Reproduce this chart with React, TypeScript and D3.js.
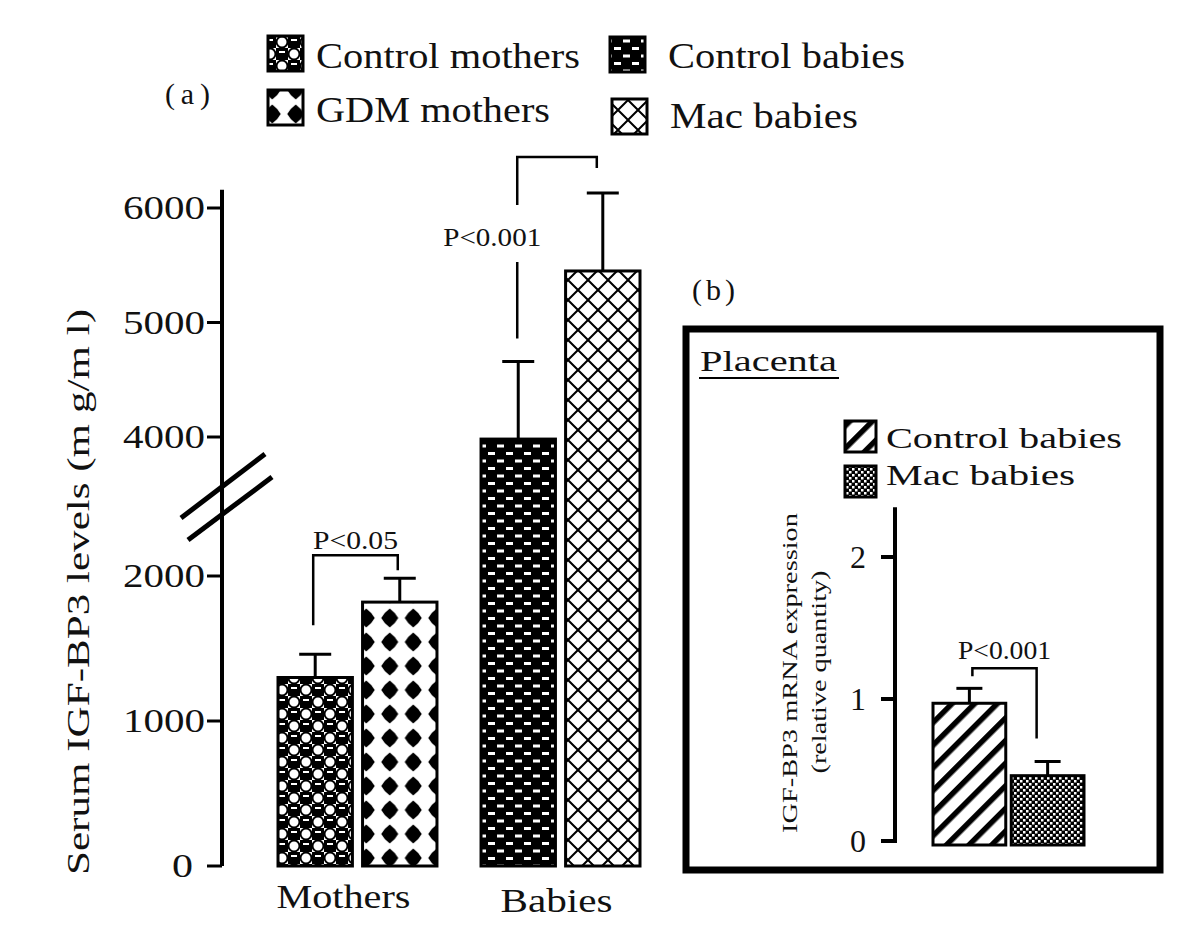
import React from "react";
import * as d3 from "d3";

// main panel (a): serum IGF-BP3
const groups = ["Mothers", "Babies"];
const motherSeries = ["Control mothers", "GDM mothers"];
const babySeries = ["Control babies", "Mac babies"];
const motherMeans = [1300, 1820];
const motherErr = [160, 165];
const babyMeans = [3970, 5450];
const babyErr = [690, 680];
const yTicks = [0, 1000, 2000, 4000, 5000, 6000];

// inset panel (b): placenta mRNA
const placentaSeries = ["Control babies", "Mac babies"];
const placentaMeans = [0.97, 0.46];
const placentaErr = [0.105, 0.1];
const placentaTicks = [0, 1, 2];

const patternIds: Record<string, string> = {
  "Control mothers": "pCM",
  "GDM mothers": "pGDM",
  "Control babies": "pCB",
  "Mac babies": "pMac",
};

const FONT = "'Liberation Serif', 'Times New Roman', serif";

export default function App() {
  const width = 1200;
  const height = 942;

  // broken axis: 0-2000 below the break, 4000-6000 above
  const y = d3.scaleLinear().domain([0, 2000, 4000, 6000]).range([866, 576, 437, 208]);
  const x0 = d3.scaleBand().domain(groups).range([278, 640]).paddingInner(0.217);
  const x1 = d3.scaleBand().domain(["0", "1"]).range([0, x0.bandwidth()]).paddingInner(0.12);

  const bars = groups.flatMap((g, gi) => {
    const names = gi === 0 ? motherSeries : babySeries;
    const means = gi === 0 ? motherMeans : babyMeans;
    const errs = gi === 0 ? motherErr : babyErr;
    return names.map((n, i) => ({
      name: n,
      x: (x0(g) as number) + (x1(String(i)) as number),
      w: x1.bandwidth(),
      v: means[i],
      e: errs[i],
    }));
  });

  const yi = d3.scaleLinear().domain([0, 2]).range([841, 557]);
  const xi = d3.scaleBand().domain(placentaSeries).range([933, 1084]).paddingInner(0.07);

  const capTop = (b: { v: number; e: number }) => y(b.v + b.e);
  const [cm, gdm, cb, mac] = bars;

  // brackets
  const mBr = { y: capTop(gdm) - 23, l: cm.x + cm.w / 2 - 2, r: gdm.x + gdm.w / 2 - 2, lEnd: capTop(cm) - 29, rEnd: capTop(gdm) - 8 };
  const bBr = { y: capTop(mac) - 36, l: cb.x + cb.w / 2 - 1, r: mac.x + mac.w / 2 - 6, lEnd: capTop(cb) - 23, rEnd: capTop(mac) - 25 };
  const iCap0 = yi(placentaMeans[0] + placentaErr[0]);
  const iCap1 = yi(placentaMeans[1] + placentaErr[1]);
  const iL = (xi(placentaSeries[0]) as number) + xi.bandwidth() / 2 + 3;
  const iR = (xi(placentaSeries[1]) as number) + xi.bandwidth() / 2 - 11;

  const legend = [
    { name: "Control mothers", sx: 268, sy: 36, tx: 316, ty: 68, len: 264 },
    { name: "GDM mothers", sx: 268, sy: 90, tx: 316, ty: 122, len: 234 },
    { name: "Control babies", sx: 610, sy: 37, tx: 668, ty: 68, len: 237 },
    { name: "Mac babies", sx: 612, sy: 99, tx: 670, ty: 128, len: 188 },
  ];

  return (
    <svg width={width} height={height} style={{ position: "absolute", left: 0, top: 0, background: "#fff" }} fontFamily={FONT} fill="#111">
      <defs>
        <pattern id="pCM" width={24} height={24} patternUnits="userSpaceOnUse">
          <rect width={24} height={24} fill="#fff" />
          <rect x={12} y={0} width={12} height={12} fill="#000" />
          <rect x={0} y={12} width={12} height={12} fill="#000" />
          <circle cx={6} cy={6} r={5.5} fill="none" stroke="#000" strokeWidth={2} />
          <circle cx={18} cy={18} r={5.5} fill="none" stroke="#000" strokeWidth={2} />
          <rect x={15} y={3} width={6} height={2} fill="#fff" />
          <rect x={3} y={15} width={6} height={2} fill="#fff" />
        </pattern>
        <pattern id="pGDM" width={23.5} height={24} patternUnits="userSpaceOnUse" x={2} y={6}>
          <rect width={23.5} height={24} fill="#fff" />
          <path transform="translate(11.75,12)" d="M0,-9.5L5,-5L8.5,0L5,5L0,9.5L-5,5L-8.5,0L-5,-5Z" fill="#000" />
        </pattern>
        <pattern id="pCB" width={18} height={15} patternUnits="userSpaceOnUse">
          <rect width={18} height={15} fill="#000" />
          <rect x={2} y={2} width={7} height={3} fill="#fff" />
          <rect x={11} y={9.5} width={7} height={3} fill="#fff" />
        </pattern>
        <pattern id="pMac" width={20} height={20} patternUnits="userSpaceOnUse" x={568}>
          <rect width={20} height={20} fill="#fff" />
          <path d="M0,0L20,20M20,0L0,20" stroke="#000" strokeWidth={2} />
        </pattern>
        <pattern id="pStripe" width={16} height={16} patternUnits="userSpaceOnUse" patternTransform="rotate(45)">
          <rect width={16} height={16} fill="#fff" />
          <rect x={0} y={0} width={5.5} height={16} fill="#000" />
        </pattern>
        <pattern id="pDots" width={6} height={6} patternUnits="userSpaceOnUse">
          <rect width={6} height={6} fill="#000" />
          <rect x={0} y={0} width={2.5} height={2.5} fill="#fff" />
          <rect x={3} y={3} width={2.5} height={2.5} fill="#fff" />
        </pattern>
      </defs>

      {/* panel label and legend */}
      <text x={165} y={104} fontSize={30} textLength={45}>(a)</text>
      {legend.map((d) => (
        <g key={d.name}>
          <rect x={d.sx} y={d.sy} width={35} height={35} fill={`url(#${patternIds[d.name]})`} stroke="#000" strokeWidth={3} />
          <text x={d.tx} y={d.ty} fontSize={36} textLength={d.len} lengthAdjust="spacingAndGlyphs">{d.name}</text>
        </g>
      ))}

      {/* y axis with break */}
      <line x1={222} x2={222} y1={y(0)} y2={y(6160)} stroke="#000" strokeWidth={4} />
      {yTicks.map((t) => (
        <g key={t}>
          <line x1={207} x2={222} y1={y(t)} y2={y(t)} stroke="#000" strokeWidth={3} />
          <text x={t === 0 ? 193 : 205} y={y(t) + 11} fontSize={34} textAnchor="end" textLength={t === 0 ? 21 : 82} lengthAdjust="spacingAndGlyphs">{t}</text>
        </g>
      ))}
      <line x1={181} y1={518} x2={265} y2={454} stroke="#000" strokeWidth={5} />
      <line x1={188} y1={540} x2={272} y2={477} stroke="#000" strokeWidth={5} />
      <text transform={`translate(89,${592}) rotate(-90)`} fontSize={31} textAnchor="middle" textLength={566} lengthAdjust="spacingAndGlyphs">Serum IGF-BP3 levels  (m g/m l)</text>

      {/* bars */}
      {bars.map((b) => (
        <g key={b.name}>
          <line x1={b.x + b.w / 2} x2={b.x + b.w / 2} y1={y(b.v)} y2={capTop(b)} stroke="#000" strokeWidth={3} />
          <line x1={b.x + b.w / 2 - 16} x2={b.x + b.w / 2 + 16} y1={capTop(b)} y2={capTop(b)} stroke="#000" strokeWidth={3} />
          <rect x={b.x} y={y(b.v)} width={b.w} height={y(0) - y(b.v)} fill={`url(#${patternIds[b.name]})`} stroke="#000" strokeWidth={3} />
        </g>
      ))}
      {groups.map((g, i) => (
        <text key={g} x={(x0(g) as number) + x0.bandwidth() / 2 - 14 * (1 - i) - 4 * i} y={908 + 4 * i} fontSize={34} textAnchor="middle" textLength={i === 0 ? 134 : 112} lengthAdjust="spacingAndGlyphs">{g}</text>
      ))}

      {/* significance brackets */}
      <path d={`M${mBr.l},${mBr.lEnd}V${mBr.y}H${mBr.r}V${mBr.rEnd}`} fill="none" stroke="#000" strokeWidth={2.5} />
      <text x={(mBr.l + mBr.r) / 2} y={mBr.y - 6} fontSize={26} textAnchor="middle" textLength={85} lengthAdjust="spacingAndGlyphs">P&lt;0.05</text>
      <path d={`M${bBr.l},${bBr.y + 48}V${bBr.y}H${bBr.r}V${bBr.rEnd}M${bBr.l},${bBr.y + 105}V${bBr.lEnd}`} fill="none" stroke="#000" strokeWidth={2.5} />
      <text x={bBr.l - 25} y={bBr.y + 89} fontSize={26} textAnchor="middle" textLength={98} lengthAdjust="spacingAndGlyphs">P&lt;0.001</text>

      {/* inset (b) */}
      <text x={692} y={300} fontSize={30} textLength={43}>(b)</text>
      <rect x={686} y={329} width={474} height={541} fill="none" stroke="#000" strokeWidth={7} />
      <text x={700} y={371} fontSize={30} textLength={137} lengthAdjust="spacingAndGlyphs">Placenta</text>
      <line x1={699} x2={839} y1={378} y2={378} stroke="#000" strokeWidth={2} />
      {placentaSeries.map((n, i) => (
        <g key={n}>
          <rect x={845} y={421 + i * 45} width={31} height={31} fill={i === 0 ? "url(#pStripe)" : "url(#pDots)"} stroke="#000" strokeWidth={3} />
          <text x={886} y={448 + i * 37} fontSize={30} textLength={i === 0 ? 236 : 189} lengthAdjust="spacingAndGlyphs">{n}</text>
        </g>
      ))}
      <line x1={895} x2={895} y1={yi(0) + 2} y2={yi(2.35)} stroke="#000" strokeWidth={4} />
      {placentaTicks.map((t) => (
        <g key={t}>
          <line x1={881} x2={895} y1={yi(t)} y2={yi(t)} stroke="#000" strokeWidth={4} />
          <text x={866} y={yi(t) + 11} fontSize={32} textAnchor="end">{t}</text>
        </g>
      ))}
      <text transform={`translate(797,${673}) rotate(-90)`} fontSize={20} textAnchor="middle" textLength={320} lengthAdjust="spacingAndGlyphs">IGF-BP3 mRNA expression</text>
      <text transform={`translate(826,${672}) rotate(-90)`} fontSize={20} textAnchor="middle" textLength={203} lengthAdjust="spacingAndGlyphs">(relative quantity)</text>
      {placentaSeries.map((n, i) => {
        const bx = xi(n) as number;
        const cx = bx + xi.bandwidth() / 2;
        const top = yi(placentaMeans[i]);
        const cap = yi(placentaMeans[i] + placentaErr[i]);
        return (
          <g key={n}>
            <line x1={cx} x2={cx} y1={top} y2={cap} stroke="#000" strokeWidth={3} />
            <line x1={cx - 13} x2={cx + 13} y1={cap} y2={cap} stroke="#000" strokeWidth={3} />
            <rect x={bx} y={top} width={xi.bandwidth()} height={yi(0) + 4 - top} fill={i === 0 ? "url(#pStripe)" : "url(#pDots)"} stroke="#000" strokeWidth={3} />
          </g>
        );
      })}
      <path d={`M${iL},${iCap0 - 12}V${iCap0 - 20}H${iR}V${iCap1 - 23}`} fill="none" stroke="#000" strokeWidth={2.5} />
      <text x={(iL + iR) / 2} y={iCap0 - 29} fontSize={26} textAnchor="middle" textLength={93} lengthAdjust="spacingAndGlyphs">P&lt;0.001</text>
    </svg>
  );
}
